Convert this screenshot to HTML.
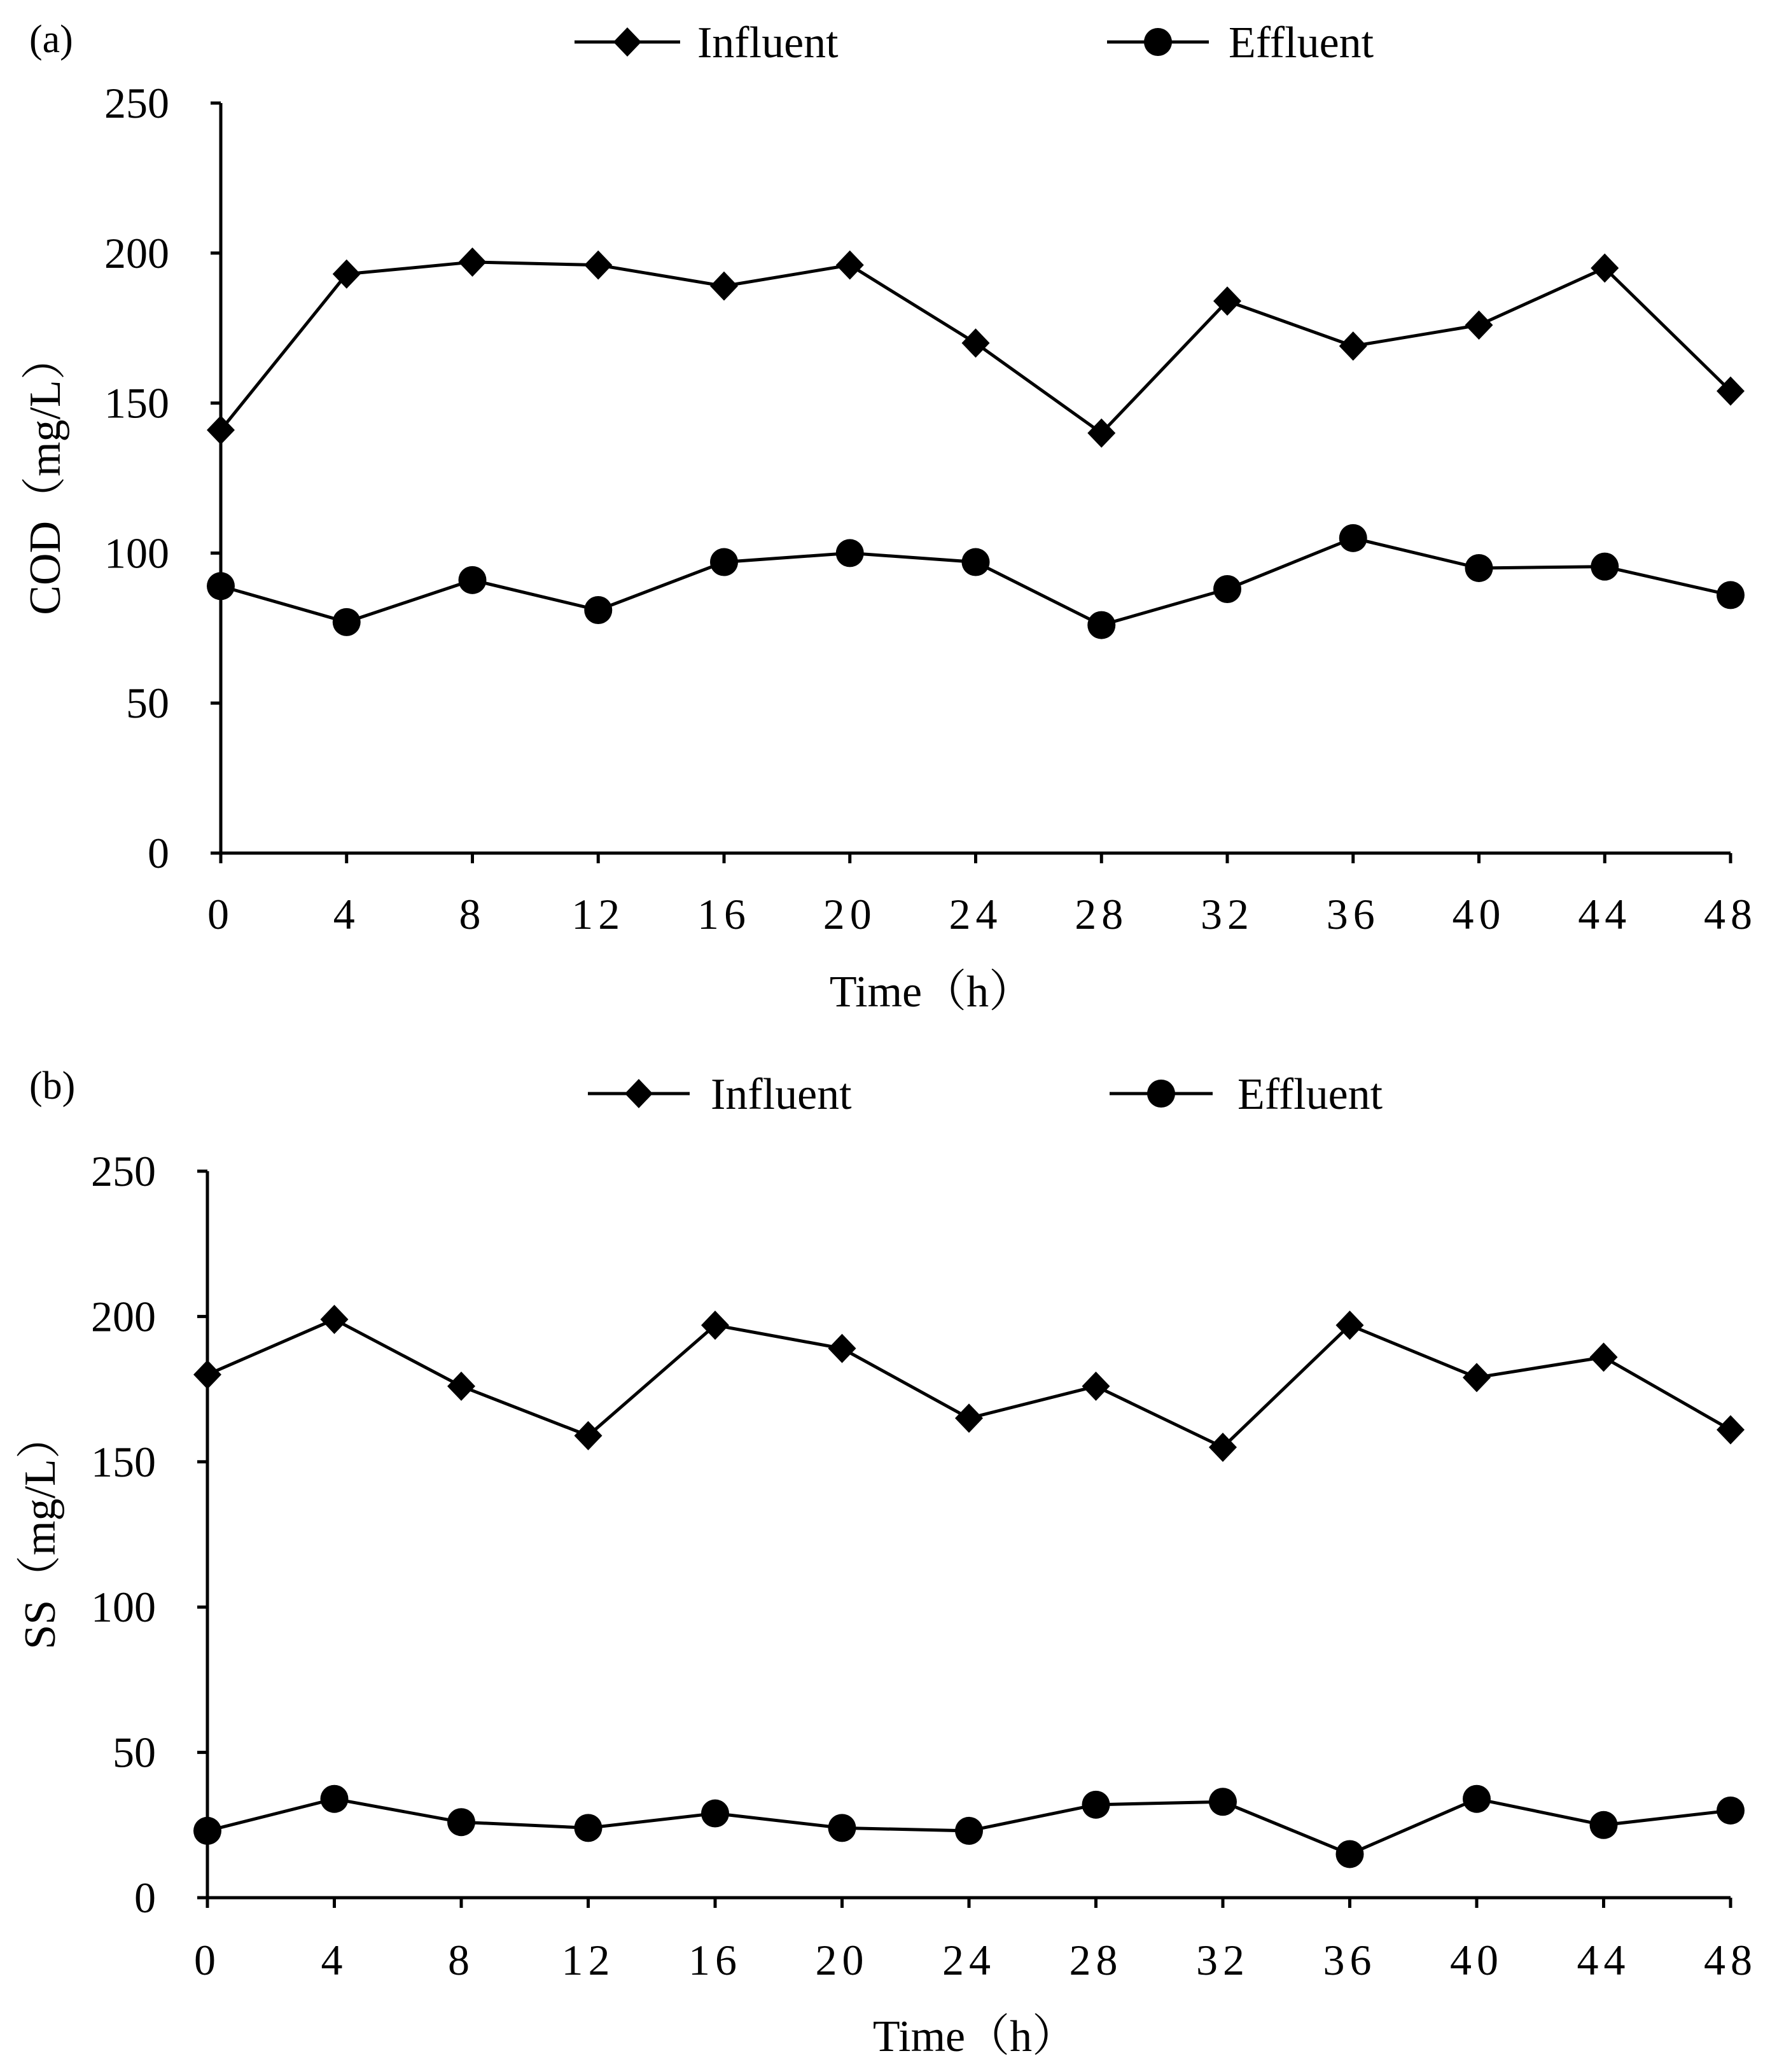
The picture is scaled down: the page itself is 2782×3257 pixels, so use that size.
<!DOCTYPE html>
<html><head><meta charset="utf-8"><style>
html,body{margin:0;padding:0;background:#fff;}
svg text{font-family:"Liberation Serif","Noto Serif CJK SC",serif;fill:#000;}
</style></head><body>
<svg id="chart" width="2782" height="3252" xmlns="http://www.w3.org/2000/svg"></svg>
<script>
const categories=[0,4,8,12,16,20,24,28,32,36,40,44,48];
const yTicks=[0,50,100,150,200,250];
const codInfluent=[141,193,197,196,189,196,170,140,184,169,176,195,154];
const codEffluent=[89,77,91,81,97,100,97,76,88,105,95,95.5,86];
const ssInfluent=[180,199,176,159,197,189,165,176,155,197,179,186,161];
const ssEffluent=[23,34,26,24,29,24,23,32,33,15,34,25,30];
const NS="http://www.w3.org/2000/svg";
const svg=document.getElementById('chart');
function el(t,a,p){const e=document.createElementNS(NS,t);for(const k in a)e.setAttribute(k,a[k]);(p||svg).appendChild(e);return e;}
function panel(cfg){
  const g=el('g',{});
  
  
  const xs=v=>cfg.x0+(v-0)/48*(cfg.x1-cfg.x0);
  const ys=v=>cfg.y0-(v/250)*(cfg.y0-cfg.y1);
  const ax=el('path',{d:`M${cfg.x0},${cfg.y1} L${cfg.x0},${cfg.y0} L${cfg.x1},${cfg.y0}`,stroke:'#000','stroke-width':5,fill:'none'},g);
  
  yTicks.forEach(v=>{
    el('line',{x1:cfg.x0-16,x2:cfg.x0,y1:ys(v),y2:ys(v),stroke:'#000','stroke-width':5},g);
    const t=el('text',{x:cfg.ylx,y:ys(v)+23,'font-size':68,'text-anchor':'end'},g);t.textContent=v;
    
  });
  categories.forEach(v=>{
    el('line',{x1:xs(v),x2:xs(v),y1:cfg.y0,y2:cfg.y0+16,stroke:'#000','stroke-width':5},g);
    const t=el('text',{x:xs(v),y:cfg.xly,'font-size':68,'text-anchor':'middle','letter-spacing':8},g);t.textContent=v;
    
  });
  function series(vals,kind,name){
    const sg=el('g',{},g);
    
    el('polyline',{points:vals.map((v,i)=>xs(categories[i])+','+ys(v)).join(' '),fill:'none',stroke:'#000','stroke-width':5},sg);
    vals.forEach((v,i)=>{
      const x=xs(categories[i]),y=ys(v);
      let m;
      if(kind==='d')m=el('polygon',{points:`${x},${y-23} ${x+22},${y} ${x},${y+23} ${x-22},${y}`,fill:'#000'},sg);
      else m=el('circle',{cx:x,cy:y,r:22,fill:'#000'},sg);
      
    });
  }
  series(cfg.inf,'d','influent-series');
  series(cfg.eff,'c','effluent-series');
  const lab=el('text',{x:46,y:cfg.labY,'font-size':62},g);lab.textContent=cfg.label;
  
  const L=cfg.leg;
  const lg1=el('g',{},g);
  el('line',{x1:L.a1,x2:L.a2,y1:L.y,y2:L.y,stroke:'#000','stroke-width':5},lg1);
  const am=(L.a1+L.a2)/2;
  el('polygon',{points:`${am},${L.y-23} ${am+22},${L.y} ${am},${L.y+23} ${am-22},${L.y}`,fill:'#000'},lg1);
  const t1=el('text',{x:L.at,y:L.y+24,'font-size':70},lg1);t1.textContent='Influent';
  const lg2=el('g',{},g);
  el('line',{x1:L.b1,x2:L.b2,y1:L.y,y2:L.y,stroke:'#000','stroke-width':5},lg2);
  el('circle',{cx:(L.b1+L.b2)/2,cy:L.y,r:22,fill:'#000'},lg2);
  const t2=el('text',{x:L.bt,y:L.y+24,'font-size':70},lg2);t2.textContent='Effluent';
  const xt=el('text',{x:cfg.xtX,y:cfg.xtY,'font-size':70,'text-anchor':'middle'},g);xt.textContent='Time（h）';
  
  const yt=el('text',{x:0,y:0,'font-size':70,'text-anchor':'middle',transform:`translate(${cfg.ytX},${cfg.ytY}) rotate(-90)`},g);yt.textContent=cfg.ytitle;
  
}
panel({name:'panel-a-cod',x0:347,x1:2720,y0:1341,y1:162,ylx:266,xly:1460,inf:codInfluent,eff:codEffluent,label:'(a)',labY:82,
  leg:{y:66,a1:903,a2:1069,at:1096,b1:1740,b2:1900,bt:1931},xtX:1464,xtY:1582,ytX:94,ytY:747,ytitle:'COD（mg/L）'});
panel({name:'panel-b-ss',x0:326,x1:2720,y0:2983,y1:1841,ylx:245,xly:3104,inf:ssInfluent,eff:ssEffluent,label:'(b)',labY:1727,
  leg:{y:1719,a1:924,a2:1084,at:1117,b1:1744,b2:1906,bt:1945},xtX:1532,xtY:3224,ytX:86,ytY:2408,ytitle:'SS（mg/L）'});
</script>
</body></html>
